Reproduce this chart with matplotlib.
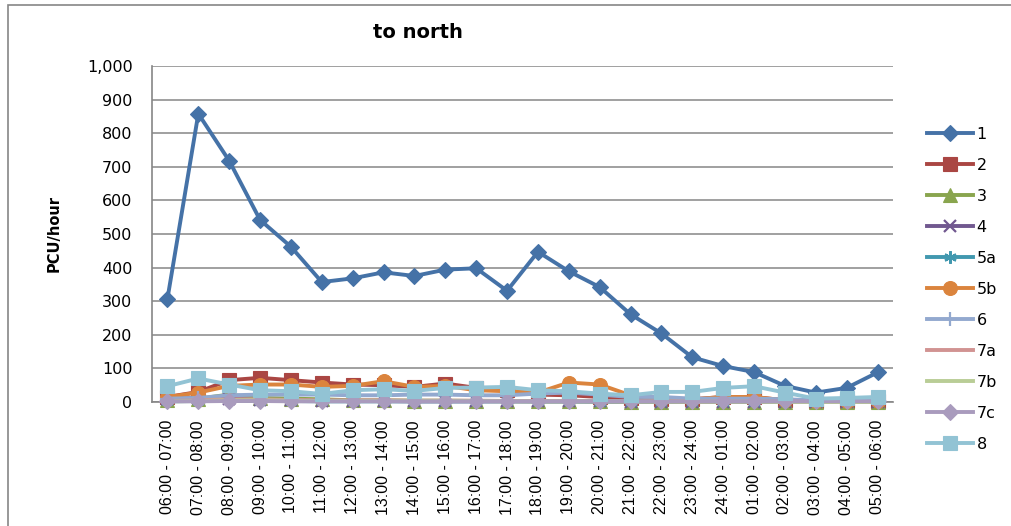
import matplotlib
matplotlib.use("Agg")
import matplotlib.pyplot as plt
from matplotlib.patches import Rectangle

# Hourly time slots
periods = ["06:00 - 07:00", "07:00 - 08:00", "08:00 - 09:00", "09:00 - 10:00",
           "10:00 - 11:00", "11:00 - 12:00", "12:00 - 13:00", "13:00 - 14:00",
           "14:00 - 15:00", "15:00 - 16:00", "16:00 - 17:00", "17:00 - 18:00",
           "18:00 - 19:00", "19:00 - 20:00", "20:00 - 21:00", "21:00 - 22:00",
           "22:00 - 23:00", "23:00 - 24:00", "24:00 - 01:00", "01:00 - 02:00",
           "02:00 - 03:00", "03:00 - 04:00", "04:00 - 05:00", "05:00 - 06:00"]

# PCU/hour per movement
s1 = [307, 858, 718, 542, 462, 357, 368, 386, 375, 394, 398, 331,
      447, 389, 342, 261, 204, 133, 107, 89, 48, 28, 42, 88]
s2 = [15, 30, 65, 72, 65, 58, 52, 50, 45, 55, 42, 35,
      22, 20, 15, 12, 10, 8, 15, 15, 5, 3, 3, 3]
s3 = [5, 10, 22, 12, 10, 8, 5, 5, 4, 4, 3, 3,
      2, 2, 2, 1, 1, 1, 1, 1, 0, 0, 0, 0]
s4 = [10, 12, 10, 5, 5, 3, 3, 3, 2, 2, 2, 2,
      2, 2, 2, 1, 1, 1, 1, 1, 0, 0, 0, 0]
s5a = [2, 3, 5, 3, 3, 2, 2, 2, 2, 2, 2, 2,
       2, 2, 1, 1, 1, 1, 0, 0, 0, 0, 0, 0]
s5b = [15, 28, 48, 52, 52, 45, 48, 62, 45, 48, 35, 32,
       28, 58, 52, 20, 10, 8, 15, 15, 5, 3, 3, 3]
s6 = [10, 12, 20, 22, 22, 22, 20, 20, 22, 22, 20, 20,
      25, 28, 22, 15, 15, 10, 10, 10, 8, 5, 5, 5]
s7a = [3, 5, 8, 8, 6, 5, 5, 5, 4, 4, 4, 3,
       3, 3, 2, 2, 2, 1, 1, 1, 1, 0, 0, 0]
s7b = [2, 3, 5, 5, 4, 3, 3, 3, 3, 3, 3, 2,
       2, 2, 2, 1, 1, 1, 1, 1, 0, 0, 0, 0]
s7c = [2, 2, 3, 3, 2, 2, 2, 2, 2, 2, 2, 2,
       2, 2, 2, 2, 2, 2, 2, 2, 2, 2, 2, 2]
s8 = [47, 70, 52, 35, 32, 24, 35, 38, 33, 42, 43, 45,
      35, 32, 25, 20, 30, 30, 42, 47, 28, 10, 12, 15]

series_names = ["1", "2", "3", "4", "5a", "5b", "6", "7a", "7b", "7c", "8"]
series_values = [s1, s2, s3, s4, s5a, s5b, s6, s7a, s7b, s7c, s8]
colors = ["#4572A7", "#AA4643", "#89A54E", "#71588F", "#4198AF", "#DB843D",
          "#93A9CF", "#D19392", "#B9CD96", "#A99BBD", "#92C3D4"]
markers = ["D", "s", "^", "x", (6, 2, 0), "o", "+", "None", "None", "D", "s"]
msizes = [8, 10, 10, 8, 9, 10, 10, 0, 0, 8, 10]

W, H = 1011, 526
fig = plt.figure(figsize=(W / 100, H / 100), dpi=100)
ax = fig.add_axes([152 / W, 1 - 402 / H, (893 - 152) / W, (402 - 66) / H])

x = list(range(len(periods)))
for i, (name, vals) in enumerate(zip(series_names, series_values)):
    mk = markers[i]
    thin = mk in ("x", "+") or isinstance(mk, tuple)
    ax.plot(x, vals, color=colors[i], lw=2.8, marker=mk,
            markersize=msizes[i], markerfacecolor=colors[i],
            markeredgecolor=colors[i], markeredgewidth=1.6 if thin else 0.8,
            label=name, zorder=3 + i, clip_on=False, solid_joinstyle="round")

ax.set_xlim(-0.5, len(periods) - 0.5)
ax.set_ylim(0, 1000)
ax.set_yticks(range(0, 1001, 100))
ax.set_yticklabels([f"{v:,}" for v in range(0, 1001, 100)],
                   fontfamily="DejaVu Sans", fontsize=11.5)
ax.set_xticks(x)
ax.set_xticklabels(periods, rotation=90, fontfamily="Liberation Sans", fontsize=11.5)
ax.tick_params(axis="x", length=0, pad=13)
ax.tick_params(axis="y", length=0, pad=14)

ax.grid(axis="y", color="#868686", lw=1.1, zorder=0)
ax.set_axisbelow(True)
for side in ("top", "right"):
    ax.spines[side].set_visible(False)
for side in ("left", "bottom"):
    ax.spines[side].set_color("#868686")
    ax.spines[side].set_linewidth(1.2)

ax.set_ylabel("PCU/hour", fontfamily="DejaVu Sans", fontweight="bold", fontsize=10.5)
ax.yaxis.set_label_coords(-0.122, 0.5)

fig.text(418 / W, 1 - 33 / H, "to north", ha="center", va="center",
         fontfamily="DejaVu Sans", fontweight="bold", fontsize=14)

leg = fig.legend(loc="upper left", bbox_to_anchor=(927 / W, 1 - 127 / H),
                 frameon=False, prop={"family": "DejaVu Sans", "size": 11.5},
                 handlelength=2.9, handletextpad=0.2, labelspacing=1.0,
                 borderpad=0, borderaxespad=0, markerscale=1.0)

# chart-area frame
fig.add_artist(Rectangle((8 / W, -0.1), 1.2, 1 - 5 / H + 0.1,
                         transform=fig.transFigure, fill=False,
                         edgecolor="#868686", lw=1.2))

fig.savefig("out.png", dpi=100)
